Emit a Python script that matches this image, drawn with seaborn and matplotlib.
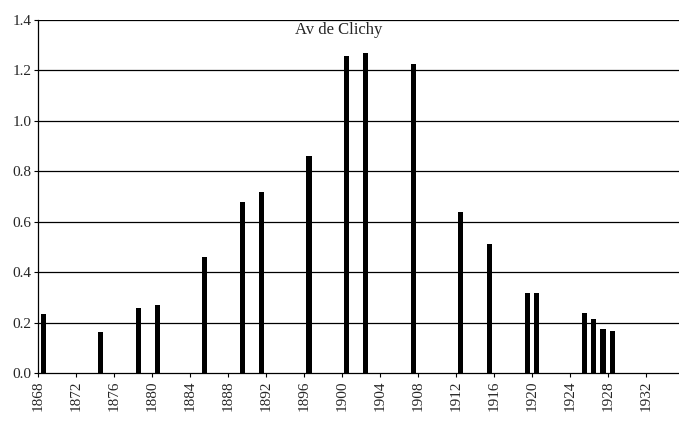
import matplotlib
matplotlib.use("Agg")
import matplotlib.pyplot as plt
import seaborn as sns
import numpy as np
import pandas as pd

# Yearly values for Avenue de Clichy
years = [1868, 1874, 1878, 1880, 1885, 1889, 1891, 1896, 1900, 1902,
         1907, 1912, 1915, 1919, 1920, 1925, 1926, 1927, 1928]
values = [0.235, 0.162, 0.258, 0.271, 0.462, 0.680, 0.720, 0.859, 1.258, 1.268,
          1.226, 0.639, 0.512, 0.317, 0.317, 0.239, 0.213, 0.176, 0.168]
title = "Av de Clichy"
x_ticks = list(range(1868, 1933, 4))
y_ticks = [0.0, 0.2, 0.4, 0.6, 0.8, 1.0, 1.2, 1.4]

sns.set_style("white")
plt.rcParams["font.family"] = ["Liberation Serif", "DejaVu Serif"]

df = pd.DataFrame({"year": years, "value": values})
# each bar sits in the middle of its year
df["pos"] = df["year"] + 0.5

fig = plt.figure(figsize=(6.79, 4.29), dpi=100)
ax = fig.add_axes([0.0567, 0.13, 0.9433, 0.8235])

ax.set_axisbelow(True)
for yv in y_ticks[1:]:
    ax.axhline(yv, color="black", lw=0.9, zorder=0)

sns.barplot(data=df, x="pos", y="value", native_scale=True, width=0.55,
            color="black", saturation=1, edgecolor="black", linewidth=0,
            ax=ax, zorder=2)

ax.set_xlim(1868, 1935.5)
ax.set_ylim(0, 1.4)
ax.set_xticks(x_ticks)
ax.set_xticklabels([str(t) for t in x_ticks], rotation=90, fontsize=11)
ax.set_yticks(y_ticks)
ax.set_yticklabels([f"{t:.1f}" for t in y_ticks], fontsize=11)
ax.set_xlabel("")
ax.set_ylabel("")
ax.tick_params(axis="both", direction="out", length=3, width=0.8, color="black",
               left=True, bottom=True, pad=2)

for side in ["top", "right"]:
    ax.spines[side].set_visible(False)
for side in ["left", "bottom"]:
    ax.spines[side].set_visible(True)
    ax.spines[side].set_color("black")
    ax.spines[side].set_linewidth(0.9)

ax.text(0.469, 0.995, title, transform=ax.transAxes, ha="center", va="top",
        fontsize=12)

fig.savefig("out.png", dpi=100)
